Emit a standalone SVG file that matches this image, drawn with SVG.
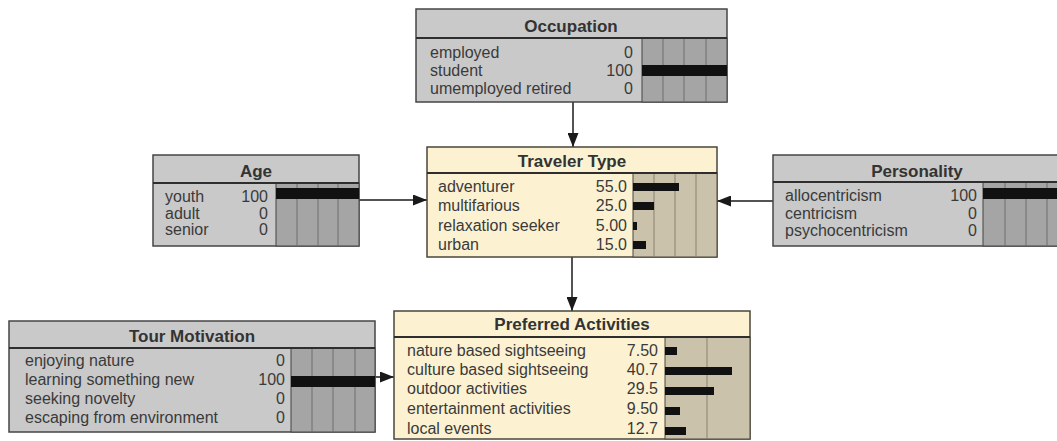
<svg xmlns="http://www.w3.org/2000/svg" width="1057" height="441" viewBox="0 0 1057 441">
  <style>
    .gray { fill: #c9c9c9; stroke: #454545; stroke-width: 1.5; }
    .cream { fill: #fcf2d2; stroke: #4a463a; stroke-width: 1.5; }
    .gbar { fill: #a5a5a5; stroke: #454545; stroke-width: 1; }
    .cbar { fill: #cbc2ab; stroke: #4a463a; stroke-width: 1; }
    .div { stroke: #2e2e2e; stroke-width: 2; }
    .ggrid { stroke: #6e6e6e; stroke-width: 1; }
    .cgrid { stroke: #8a8270; stroke-width: 1; }
    .title { font-family: "Liberation Sans", Arial, sans-serif; font-size: 17px; font-weight: bold; fill: #333; text-anchor: middle; }
    .lbl { font-family: "Liberation Sans", Arial, sans-serif; font-size: 16px; fill: #3a3a3a; }
    .val { font-family: "Liberation Sans", Arial, sans-serif; font-size: 16px; fill: #3a3a3a; text-anchor: end; }
    .bar { fill: #111; }
    .edge { stroke: #1a1a1a; stroke-width: 1.5; fill: none; marker-end: url(#arrow); }
  </style>
  <defs>
    <marker id="arrow" markerUnits="userSpaceOnUse" markerWidth="14" markerHeight="11" refX="14" refY="5.5" orient="auto">
      <path d="M0,0 L14,5.5 L0,11 z" fill="#1a1a1a"/>
    </marker>
  </defs>
  <rect width="1057" height="441" fill="#ffffff"/>

  <!-- connectors -->
  <g id="connectors">
    <line class="edge" x1="573" y1="102" x2="573" y2="147"/>
    <line class="edge" x1="359" y1="200" x2="427" y2="200"/>
    <line class="edge" x1="773" y1="201" x2="717" y2="201"/>
    <line class="edge" x1="572" y1="257" x2="572" y2="311"/>
    <line class="edge" x1="375" y1="377" x2="394" y2="377"/>
  </g>

  <!-- Occupation -->
  <g id="occupation">
    <rect class="gray" x="416" y="9" width="311" height="93"/>
    <rect class="gbar" x="642" y="38" width="85" height="64"/>
    <line class="ggrid" x1="663" y1="38" x2="663" y2="102"/>
    <line class="ggrid" x1="684" y1="38" x2="684" y2="102"/>
    <line class="ggrid" x1="706" y1="38" x2="706" y2="102"/>
    <line class="div" x1="416" y1="38" x2="727" y2="38"/>
    <text class="title" x="571" y="32">Occupation</text>
    <text class="lbl" x="430" y="58">employed</text>
    <text class="lbl" x="430" y="76">student</text>
    <text class="lbl" x="430" y="94">umemployed retired</text>
    <text class="val" x="633" y="58">0</text>
    <text class="val" x="633" y="76">100</text>
    <text class="val" x="633" y="94">0</text>
    <rect class="bar" x="642" y="65" width="85" height="11"/>
  </g>

  <!-- Age -->
  <g id="age">
    <rect class="gray" x="153" y="155" width="206" height="91"/>
    <rect class="gbar" x="276" y="183" width="83" height="63"/>
    <line class="ggrid" x1="297" y1="183" x2="297" y2="246"/>
    <line class="ggrid" x1="318" y1="183" x2="318" y2="246"/>
    <line class="ggrid" x1="338" y1="183" x2="338" y2="246"/>
    <line class="div" x1="153" y1="183" x2="359" y2="183"/>
    <text class="title" x="256" y="177">Age</text>
    <text class="lbl" x="165" y="202">youth</text>
    <text class="lbl" x="165" y="219">adult</text>
    <text class="lbl" x="165" y="235">senior</text>
    <text class="val" x="268" y="202">100</text>
    <text class="val" x="268" y="219">0</text>
    <text class="val" x="268" y="235">0</text>
    <rect class="bar" x="276" y="188" width="83" height="11"/>
  </g>

  <!-- Traveler Type -->
  <g id="traveler-type">
    <rect class="cream" x="427" y="147" width="290" height="110"/>
    <rect class="cbar" x="633" y="173" width="84" height="84"/>
    <line class="cgrid" x1="654" y1="173" x2="654" y2="257"/>
    <line class="cgrid" x1="675" y1="173" x2="675" y2="257"/>
    <line class="cgrid" x1="696" y1="173" x2="696" y2="257"/>
    <line class="div" x1="427" y1="173" x2="717" y2="173"/>
    <text class="title" x="572" y="167">Traveler Type</text>
    <text class="lbl" x="438" y="192">adventurer</text>
    <text class="lbl" x="438" y="211">multifarious</text>
    <text class="lbl" x="438" y="231">relaxation seeker</text>
    <text class="lbl" x="438" y="250">urban</text>
    <text class="val" x="627" y="192">55.0</text>
    <text class="val" x="627" y="211">25.0</text>
    <text class="val" x="627" y="231">5.00</text>
    <text class="val" x="627" y="250">15.0</text>
    <rect class="bar" x="633" y="183" width="46" height="8"/>
    <rect class="bar" x="633" y="202" width="21" height="8"/>
    <rect class="bar" x="633" y="222" width="4" height="8"/>
    <rect class="bar" x="633" y="241" width="13" height="8"/>
  </g>

  <!-- Personality -->
  <g id="personality">
    <rect class="gray" x="773" y="155" width="295" height="91"/>
    <rect class="gbar" x="983" y="182" width="85" height="64"/>
    <line class="ggrid" x1="1005" y1="182" x2="1005" y2="246"/>
    <line class="ggrid" x1="1026" y1="182" x2="1026" y2="246"/>
    <line class="ggrid" x1="1047" y1="182" x2="1047" y2="246"/>
    <line class="div" x1="773" y1="182" x2="1068" y2="182"/>
    <text class="title" x="917" y="177">Personality</text>
    <text class="lbl" x="785" y="201">allocentricism</text>
    <text class="lbl" x="785" y="219">centricism</text>
    <text class="lbl" x="785" y="236">psychocentricism</text>
    <text class="val" x="977" y="201">100</text>
    <text class="val" x="977" y="219">0</text>
    <text class="val" x="977" y="236">0</text>
    <rect class="bar" x="983" y="188" width="85" height="11"/>
  </g>

  <!-- Tour Motivation -->
  <g id="tour-motivation">
    <rect class="gray" x="9" y="321" width="366" height="111"/>
    <rect class="gbar" x="291" y="348" width="84" height="84"/>
    <line class="ggrid" x1="312" y1="348" x2="312" y2="432"/>
    <line class="ggrid" x1="333" y1="348" x2="333" y2="432"/>
    <line class="ggrid" x1="355" y1="348" x2="355" y2="432"/>
    <line class="div" x1="9" y1="348" x2="375" y2="348"/>
    <text class="title" x="192" y="342">Tour Motivation</text>
    <text class="lbl" x="25" y="366">enjoying nature</text>
    <text class="lbl" x="25" y="385">learning something new</text>
    <text class="lbl" x="25" y="404">seeking novelty</text>
    <text class="lbl" x="25" y="423">escaping from environment</text>
    <text class="val" x="285" y="366">0</text>
    <text class="val" x="285" y="385">100</text>
    <text class="val" x="285" y="404">0</text>
    <text class="val" x="285" y="423">0</text>
    <rect class="bar" x="291" y="376" width="84" height="11"/>
  </g>

  <!-- Preferred Activities -->
  <g id="preferred-activities">
    <rect class="cream" x="394" y="311" width="356" height="128"/>
    <rect class="cbar" x="665" y="337" width="85" height="102"/>
    <line class="cgrid" x1="707" y1="337" x2="707" y2="439"/>
    <line class="div" x1="394" y1="337" x2="750" y2="337"/>
    <text class="title" x="572" y="330">Preferred Activities</text>
    <text class="lbl" x="407" y="356">nature based sightseeing</text>
    <text class="lbl" x="407" y="375">culture based sightseeing</text>
    <text class="lbl" x="407" y="394">outdoor activities</text>
    <text class="lbl" x="407" y="414">entertainment activities</text>
    <text class="lbl" x="407" y="434">local events</text>
    <text class="val" x="658" y="356">7.50</text>
    <text class="val" x="658" y="375">40.7</text>
    <text class="val" x="658" y="394">29.5</text>
    <text class="val" x="658" y="414">9.50</text>
    <text class="val" x="658" y="434">12.7</text>
    <rect class="bar" x="665" y="347" width="12" height="8"/>
    <rect class="bar" x="665" y="367" width="67" height="8"/>
    <rect class="bar" x="665" y="387" width="49" height="8"/>
    <rect class="bar" x="665" y="407" width="15" height="8"/>
    <rect class="bar" x="665" y="427" width="21" height="8"/>
  </g>
</svg>
